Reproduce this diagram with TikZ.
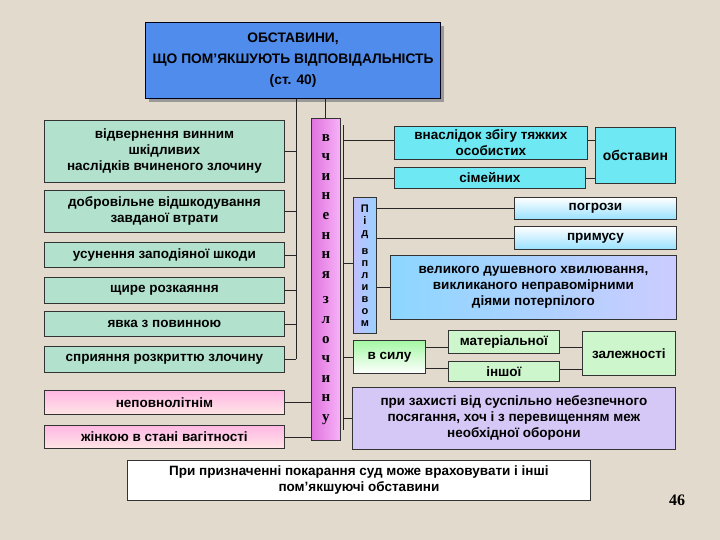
\documentclass[tikz,border=0pt]{standalone}
\usepackage{fontspec}
\setmainfont{Liberation Sans}
\newfontfamily\serifb{Liberation Serif}
\begin{document}
\begin{tikzpicture}[x=1pt,y=-1pt,
  bx/.style={draw=black!80,line width=0.8pt,inner sep=1pt,align=center,font=\bfseries\fontsize{13.5}{16}\selectfont},
  lft/.style={bx,fill=lgreen},
  ln/.style={draw=black!85,line width=0.7pt}]
\definecolor{bg}{RGB}{226,218,204}
\definecolor{lgreen}{RGB}{178,226,206}
\definecolor{cyanb}{RGB}{110,232,242}
\definecolor{titleb}{RGB}{80,140,235}
\definecolor{lav}{RGB}{214,200,246}
\definecolor{gr}{RGB}{205,246,205}
\fill[bg] (0,0) rectangle (720,540);
\useasboundingbox (0,0) rectangle (720,540);
% title
\fill[black!40] (149,26) rectangle (444,102);
\node[bx,fill=titleb,draw=black!90!blue,line width=1.2pt,minimum width=295pt,minimum height=76pt,anchor=north west,font=\bfseries\fontsize{13.8}{21}\selectfont] (t) at (145,22) {ОБСТАВИНИ,\\ЩО ПОМ’ЯКШУЮТЬ ВІДПОВІДАЛЬНІСТЬ\\(ст. 40)};
% left boxes
\node[lft,minimum width=240pt,minimum height=62pt,anchor=north west] (l1) at (44,120) {відвернення винним\\шкідливих\\наслідків вчиненого злочину};
\node[lft,minimum width=240pt,minimum height=42pt,anchor=north west] (l2) at (44,190) {добровільне відшкодування\\завданої втрати};
\node[lft,minimum width=240pt,minimum height=25pt,anchor=north west] (l3) at (44,242) {усунення заподіяної шкоди};
\node[lft,minimum width=240pt,minimum height=26pt,anchor=north west] (l4) at (44,277) {щире розкаяння};
\node[lft,minimum width=240pt,minimum height=25pt,anchor=north west] (l5) at (44,311) {явка з повинною};
\node[lft,minimum width=240pt,minimum height=26pt,anchor=north west] (l6) at (44,346) {сприяння розкриттю злочину};
\node[bx,top color=pink!70!magenta!60,bottom color=pink!40,minimum width=240pt,minimum height=24pt,anchor=north west] (p1) at (44,390) {неповнолітнім};
\node[bx,top color=pink!70!magenta!60,bottom color=pink!40,minimum width=240pt,minimum height=23pt,anchor=north west] (p2) at (44,425) {жінкою в стані вагітності};
% vertical word
\node[bx,left color=violet!45!magenta!55,right color=violet!20!magenta!30,minimum width=29pt,minimum height=322pt,anchor=north west,font=\serifb\bfseries\fontsize{15}{19.6}\selectfont] (v) at (311,118) {в\\ч\\и\\н\\е\\н\\н\\я\\[6pt]з\\л\\о\\ч\\и\\н\\у};
% spine lines
\coordinate (s1) at (296,98);
\coordinate (s2) at (296,359);
\draw[ln] (t.south -| s1) -- (s2);
\foreach \b in {l1,l2,l3,l4,l5,l6} \draw[ln] (\b.east) -- (\b.east -| s1);
\draw[ln] (t.south -| 325,0) -- (v.north -| 325,0);
\draw[ln] (p1.east) -- (p1.east -| v.west);
\draw[ln] (p2.east) -- (p2.east -| v.west);
\coordinate (r1) at (343,125);
\coordinate (r2) at (343,430);
\draw[ln] (r1) -- (r2);
% right boxes
\node[bx,fill=cyanb,minimum width=193pt,minimum height=33pt,anchor=north west] (a1) at (394,126) {внаслідок збігу тяжких\\особистих};
\node[bx,fill=cyanb,minimum width=191pt,minimum height=21pt,anchor=north west] (a2) at (394,167) {сімейних};
\node[bx,fill=cyanb,minimum width=80pt,minimum height=56pt,anchor=north west,font=\bfseries\fontsize{14}{16}\selectfont] (ob) at (595,127) {обставин};
\node[bx,left color=blue!25,right color=blue!45!cyan!40,minimum width=23pt,minimum height=136pt,anchor=north west,font=\bfseries\fontsize{11}{12}\selectfont] (pv) at (353,197) {П\\і\\д\\[6pt]в\\п\\л\\и\\в\\о\\м};
\node[bx,top color=white,bottom color=blue!30!cyan!40,minimum width=162pt,minimum height=22pt,anchor=north west] (pg) at (514,197) {погрози};
\node[bx,top color=white,bottom color=blue!30!cyan!40,minimum width=162pt,minimum height=23pt,anchor=north west] (pm) at (514,226) {примусу};
\node[bx,left color=blue!35!cyan!45,right color=white!80!blue,minimum width=286pt,minimum height=64pt,anchor=north west] (vh) at (390,255) {великого душевного хвилювання,\\викликаного неправомірними\\діями потерпілого};
\node[bx,top color=gr!80!green,bottom color=white,minimum width=72pt,minimum height=33pt,anchor=north west] (vs) at (353,340) {в силу};
\node[bx,fill=gr,minimum width=111pt,minimum height=23pt,anchor=north west] (m1) at (448,330) {матеріальної};
\node[bx,fill=gr,minimum width=111pt,minimum height=20pt,anchor=north west] (m2) at (448,361) {іншої};
\node[bx,fill=gr,minimum width=93pt,minimum height=44pt,anchor=north west] (zl) at (582,331) {залежності};
\node[bx,fill=lav,minimum width=323pt,minimum height=62pt,anchor=north west] (pz) at (352,387) {при захисті від суспільно небезпечного\\посягання, хоч і з перевищенням меж\\необхідної оборони};
% right connectors
\draw[ln] (r1 |- 0,140) -- (a1.west |- 0,140);
\draw[ln] (r1 |- a2.west) -- (a2.west);
\draw[ln] (a1.east |- 0,140) -- (ob.west |- 0,140);
\draw[ln] (a2.east) -- (ob.west |- a2.east);
\draw[ln] (r1 |- 0,263) -- (pv.west |- 0,263);
\draw[ln] (pv.east |- pg.west) -- (pg.west);
\draw[ln] (pv.east |- pm.west) -- (pm.west);
\draw[ln] (pv.east |- 0,287) -- (vh.west |- 0,287);
\draw[ln] (r1 |- vs.west) -- (vs.west);
\draw[ln] (vs.east |- 0,347) -- (m1.west |- 0,347);
\draw[ln] (vs.east |- 0,368) -- (m2.west |- 0,368);
\draw[ln] (m1.east |- 0,347) -- (zl.west |- 0,347);
\draw[ln] (m2.east |- 0,369) -- (zl.west |- 0,369);
\draw[ln] (r1 |- 0,418) -- (pz.west |- 0,418);
% bottom
\node[bx,fill=white,minimum width=463pt,minimum height=40pt,anchor=north west] (bt) at (127,460) {При призначенні покарання суд може враховувати і інші\\пом’якшуючі обставини};
\node[font=\serifb\bfseries\fontsize{16}{18}\selectfont] (n) at (677,500) {46};
\end{tikzpicture}
\end{document}
